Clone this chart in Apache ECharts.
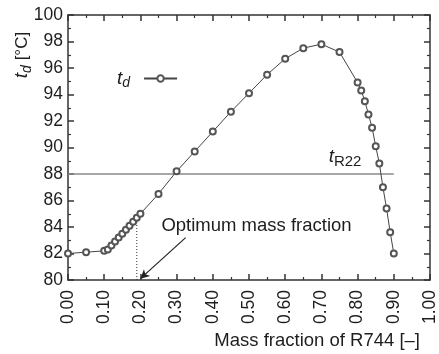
<!DOCTYPE html>
<html>
<head>
<meta charset="utf-8">
<script src="https://cdn.jsdelivr.net/npm/echarts@6/dist/echarts.min.js"></script>
<style>
  html, body { margin: 0; padding: 0; background: #fff; }
  #chart { width: 439px; height: 354px; }
</style>
</head>
<body>
<div id="chart"></div>
<script>
(function () {
    'use strict';

    // mass fraction of R744 [-]
    var massFraction = [0.00, 0.05, 0.10, 0.11, 0.12, 0.13, 0.14, 0.15, 0.16, 0.17, 0.18, 0.19, 0.20,
        0.25, 0.30, 0.35, 0.40, 0.45, 0.50, 0.55, 0.60, 0.65, 0.70, 0.75,
        0.80, 0.81, 0.82, 0.83, 0.84, 0.85, 0.86, 0.87, 0.88, 0.89, 0.90];
    // discharge temperature t_d [°C]
    var tempDischarge = [82.0, 82.1, 82.2, 82.3, 82.6, 82.9, 83.2, 83.5, 83.8, 84.1, 84.4, 84.7, 85.0,
        86.5, 88.2, 89.7, 91.2, 92.7, 94.1, 95.5, 96.7, 97.5, 97.8, 97.2,
        94.9, 94.3, 93.5, 92.5, 91.5, 90.1, 88.8, 87.0, 85.4, 83.6, 82.0];
    // R22 reference line
    var tR22 = 88;
    var tR22Range = [0, 0.9];
    var optimumFraction = 0.19;
    var optimumTemp = 84.7;
    // arrow start / end (data coords)
    var arrowFrom = [0.325, 83.2];
    var arrowTo = [0.2, 80.1];
    var optimumTextAt = [0.258, 84.05];
    var r22TextAt = [0.72, 89.3];

    var xTicks = { min: 0, max: 1, interval: 0.1 };
    var yTicks = { min: 80, max: 100, interval: 2 };

    var font = 'Liberation Sans, Arial, sans-serif';
    var ink = '#1e1e1e';

    var chart = echarts.init(document.getElementById('chart'));

    function axisBase(show) {
        return {
            axisLine: { show: true, onZero: false, lineStyle: { color: '#333', width: 1.5 } },
            axisTick: { show: true, inside: true, length: 6, lineStyle: { color: '#333', width: 1.5 } },
            minorTick: { show: true, splitNumber: 2, length: 3, lineStyle: { color: '#333', width: 1.2 } },
            splitLine: { show: false },
            axisLabel: { show: show }
        };
    }

    var xMain = Object.assign(axisBase(true), {
        type: 'value', position: 'bottom', min: xTicks.min, max: xTicks.max, interval: xTicks.interval
    });
    xMain.axisLabel = {
        show: true, rotate: 90, margin: 10, fontSize: 17.5, fontFamily: font, color: ink,
        formatter: function (v) { return v.toFixed(2); }
    };
    var xTop = Object.assign(axisBase(false), {
        type: 'value', position: 'top', min: xTicks.min, max: xTicks.max, interval: xTicks.interval
    });
    var yMain = Object.assign(axisBase(true), {
        type: 'value', position: 'left', min: yTicks.min, max: yTicks.max, interval: yTicks.interval
    });
    yMain.axisLabel = { show: true, margin: 5, fontSize: 17.5, fontFamily: font, color: ink };
    var yRight = Object.assign(axisBase(false), {
        type: 'value', position: 'right', min: yTicks.min, max: yTicks.max, interval: yTicks.interval
    });

    var tdData = massFraction.map(function (x, i) { return [x, tempDischarge[i]]; });

    chart.setOption({
        animation: false,
        backgroundColor: '#fff',
        grid: { left: 68, right: 6, top: 15, bottom: 74, containLabel: false },
        xAxis: [xMain, xTop],
        yAxis: [yMain, yRight],
        legend: {
            left: 112, top: 64, align: 'right', itemWidth: 33, itemHeight: 8, itemGap: 0,
            data: ['td'],
            formatter: function () { return '{i|t}{s|d}'; },
            textStyle: {
                rich: {
                    i: { fontSize: 19, fontStyle: 'italic', fontFamily: font, color: ink },
                    s: { fontSize: 14, fontStyle: 'italic', fontFamily: font, color: ink, padding: [10, 9, 0, 0] }
                }
            }
        },
        series: [
            {
                name: 'R22',
                type: 'line',
                symbol: 'none',
                data: [[tR22Range[0], tR22], [tR22Range[1], tR22]],
                lineStyle: { color: '#8a8a8a', width: 1.6 },
                z: 1
            },
            {
                name: 'optimum',
                type: 'line',
                symbol: 'none',
                data: [[optimumFraction, yTicks.min], [optimumFraction, optimumTemp]],
                lineStyle: { color: '#333', width: 1, type: [1, 2] },
                markLine: {
                    silent: true,
                    symbol: ['none', 'arrow'],
                    symbolSize: [7, 9],
                    label: { show: false },
                    lineStyle: { color: '#222', width: 1.2, type: 'solid' },
                    data: [[{ coord: arrowFrom }, { coord: arrowTo }]]
                },
                z: 1
            },
            {
                name: 'td',
                type: 'line',
                data: tdData,
                symbol: 'emptyCircle',
                symbolSize: 6,
                itemStyle: { color: '#555', borderWidth: 1 },
                lineStyle: { color: '#444', width: 1 },
                z: 3
            }
        ]
    });

    var pOpt = chart.convertToPixel({ gridIndex: 0 }, optimumTextAt);
    var pR22 = chart.convertToPixel({ gridIndex: 0 }, r22TextAt);

    chart.setOption({
        graphic: [
            {
                type: 'text', x: 22, y: 55, rotation: Math.PI / 2,
                style: {
                    text: '{i|t}{s|d}{n| [°C]}', align: 'center', verticalAlign: 'middle',
                    rich: {
                        i: { fontSize: 19, fontStyle: 'italic', fontFamily: font, fill: ink },
                        s: { fontSize: 14, fontStyle: 'italic', fontFamily: font, fill: ink, padding: [10, 0, 0, 0] },
                        n: { fontSize: 17, fontFamily: font, fill: ink }
                    }
                }
            },
            {
                type: 'text', right: 19, top: 331,
                style: { text: 'Mass fraction of R744 [\u2013]', fontSize: 18.5, fontFamily: font, fill: ink }
            },
            {
                type: 'text', x: pOpt[0], y: pOpt[1],
                style: { text: 'Optimum mass fraction', fontSize: 18.5, fontFamily: font, fill: ink, verticalAlign: 'middle' }
            },
            {
                type: 'text', x: pR22[0], y: pR22[1],
                style: {
                    text: '{i|t}{s|R22}', verticalAlign: 'middle',
                    rich: {
                        i: { fontSize: 19, fontStyle: 'italic', fontFamily: font, fill: ink },
                        s: { fontSize: 15, fontFamily: font, fill: ink, padding: [10, 0, 0, 0] }
                    }
                }
            }
        ]
    });
})();
</script>
</body>
</html>
